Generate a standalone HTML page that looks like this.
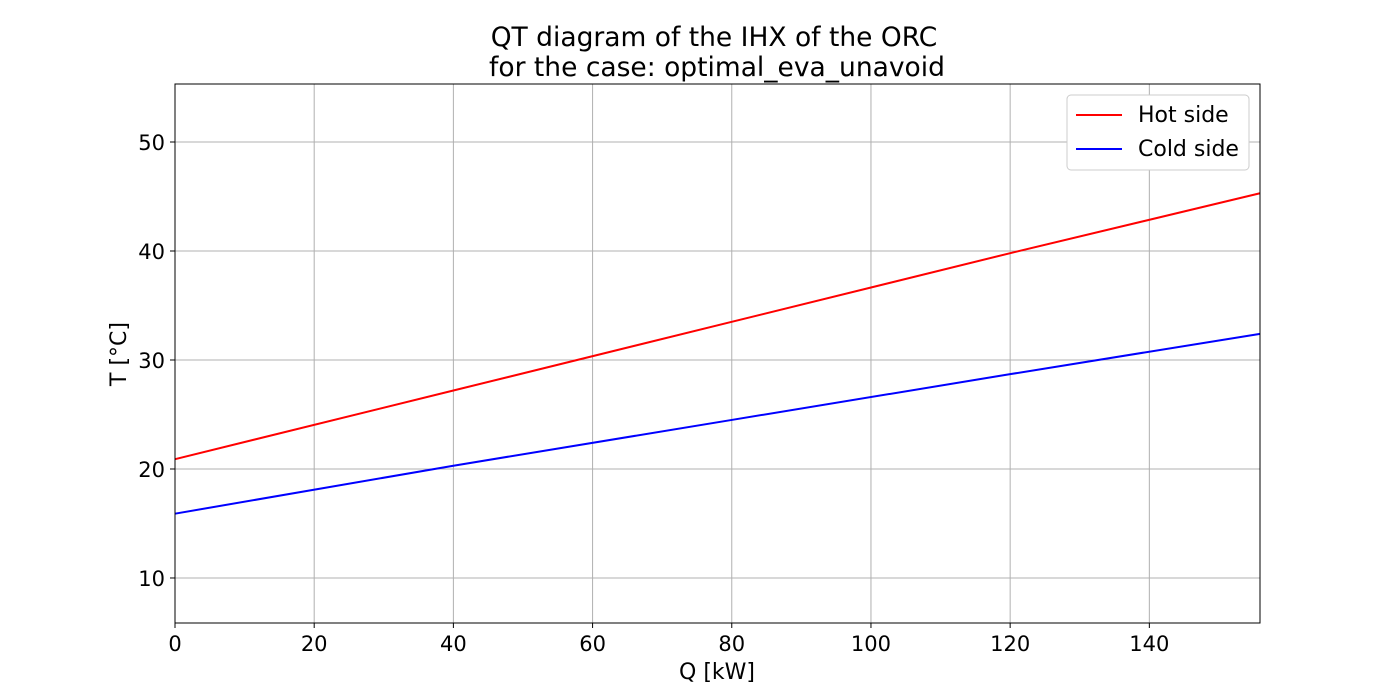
<!DOCTYPE html>
<html><head><meta charset="utf-8"><style>
body{margin:0;background:#fff;}
svg{display:block;font-family:"DejaVu Sans","Liberation Sans",sans-serif;}
</style></head><body>
<svg id="chart" width="1400" height="700">
<text x="714" y="46" font-size="26.5" text-anchor="middle">QT diagram of the IHX of the ORC</text>
<text x="717" y="76" font-size="26.5" text-anchor="middle">for the case: optimal_eva_unavoid</text>
<g id="grid"></g><g id="series"></g><g id="axes"></g>
<text x="717" y="679" font-size="22" text-anchor="middle">Q [kW]</text>
<text transform="translate(126,354) rotate(-90)" font-size="22" text-anchor="middle">T [°C]</text>
<g>
<rect x="1067" y="95" width="182" height="75" rx="4" fill="#fff" stroke="#ccc"/>
<line x1="1076" y1="115" x2="1122" y2="115" stroke="#ff0000" stroke-width="2"/>
<text x="1138" y="122" font-size="22">Hot side</text>
<line x1="1076" y1="149" x2="1122" y2="149" stroke="#0000ff" stroke-width="2"/>
<text x="1138" y="156" font-size="22">Cold side</text>
</g>
</svg>
<script>
const qValues=[0,40,80,120,155.9];
const hotT=[20.9,27.2,33.5,39.8,45.3];
const coldT=[15.9,20.3,24.5,28.7,32.4];
const xTicks=[0,20,40,60,80,100,120,140];
const yTicks=[10,20,30,40,50];
const X0=175,X1=1260,Y0=84,Y1=623,xmin=0,xmax=155.9,ymin=5.87,ymax=55.32;
const NS="http://www.w3.org/2000/svg";
function sx(v){return X0+(v-xmin)/(xmax-xmin)*(X1-X0);}
function sy(v){return Y1-(v-ymin)/(ymax-ymin)*(Y1-Y0);}
function mk(t,a,p){const e=document.createElementNS(NS,t);for(const k in a)e.setAttribute(k,a[k]);p.appendChild(e);return e;}
const grid=document.getElementById('grid'),axes=document.getElementById('axes'),ser=document.getElementById('series');
xTicks.forEach(v=>{const x=sx(v);
const g=mk('line',{x1:x,x2:x,y1:Y0,y2:Y1,stroke:'#b0b0b0','stroke-width':1},grid);


mk('line',{x1:x,x2:x,y1:Y1,y2:Y1+5,stroke:'#000'},axes);
const t=mk('text',{x:x,y:Y1+28,'font-size':21,'text-anchor':'middle'},axes);t.textContent=v;

});
yTicks.forEach(v=>{const y=sy(v);
const g=mk('line',{x1:X0,x2:X1,y1:y,y2:y,stroke:'#b0b0b0','stroke-width':1},grid);


mk('line',{x1:X0-5,x2:X0,y1:y,y2:y,stroke:'#000'},axes);
const t=mk('text',{x:X0-10,y:y+8,'font-size':21,'text-anchor':'end'},axes);t.textContent=v;

});
const fr=mk('rect',{x:X0,y:Y0,width:X1-X0,height:Y1-Y0,fill:'none',stroke:'#000','stroke-width':1},axes);


function line(vals,col,name){const p=mk('polyline',{points:qValues.map((q,i)=>sx(q)+','+sy(vals[i])).join(' '),fill:'none',stroke:col,'stroke-width':2},ser);

}
line(hotT,'#ff0000','hot-side-line');
line(coldT,'#0000ff','cold-side-line');
</script>
</body></html>
